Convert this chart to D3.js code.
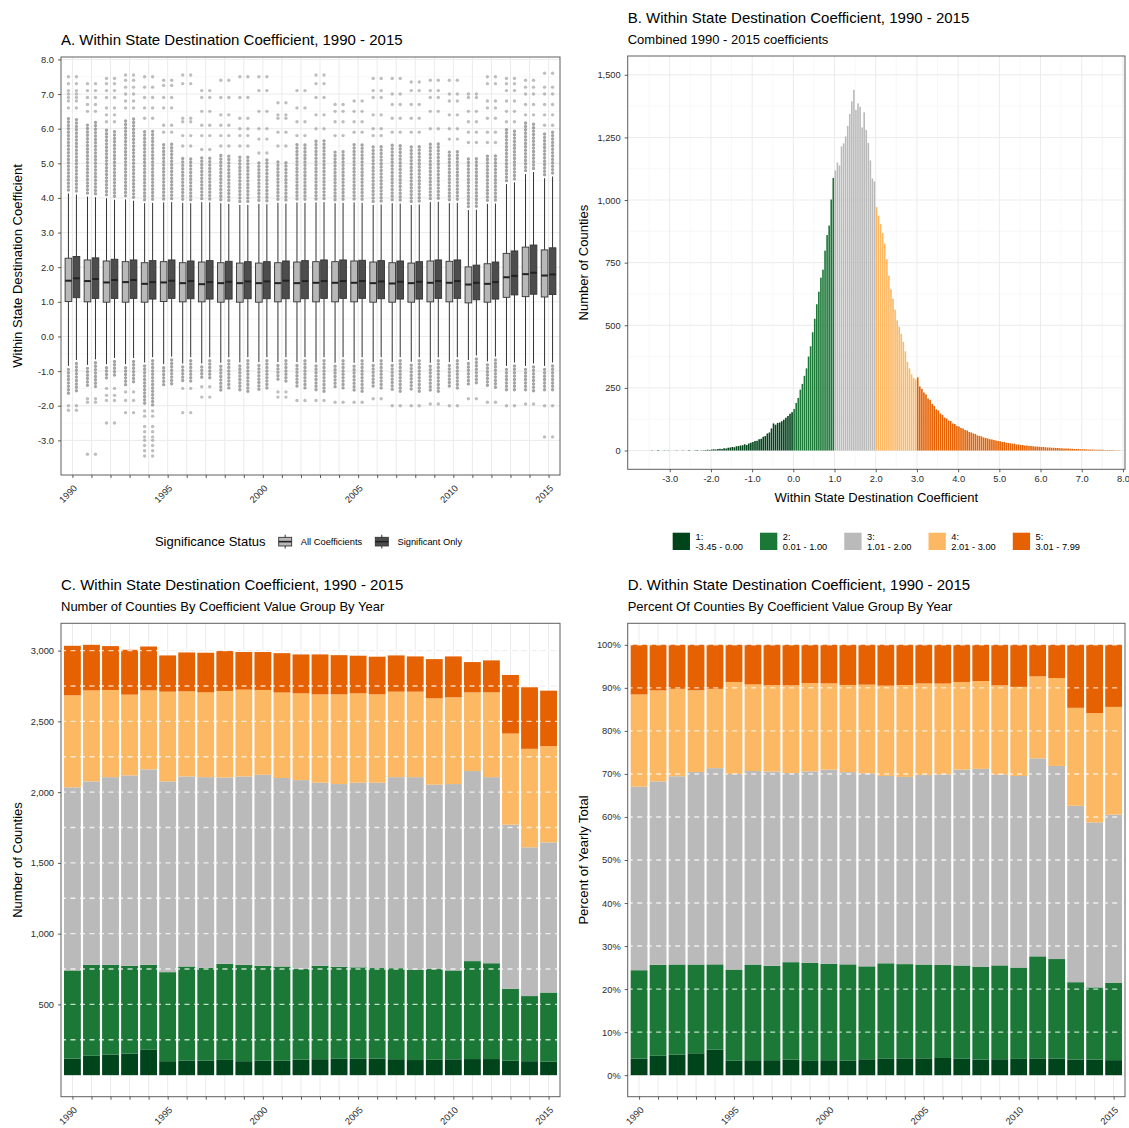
<!DOCTYPE html>
<html>
<head>
<meta charset="utf-8">
<script src="https://cdn.jsdelivr.net/npm/d3@7"></script>
<style>
  body { margin: 0; background: #fff; }
  text { font-family: "Liberation Sans", Arial, sans-serif; }
</style>
</head>
<body>
<script>
// ---------- data ----------
const years = [1990,1991,1992,1993,1994,1995,1996,1997,1998,1999,2000,2001,2002,
               2003,2004,2005,2006,2007,2008,2009,2010,2011,2012,2013,2014,2015];
const yearLabels = [1990, 1995, 2000, 2005, 2010, 2015];

// panel A: box stats, all coefficients
const allQ1  = [1.01,1.00,0.99,0.99,0.99,1.01,1.00,1.00,0.99,0.99,0.99,1.00,1.00,1.00,1.00,1.00,0.99,0.99,0.99,1.00,1.00,0.97,0.99,1.13,1.15,1.14];
const allMed = [1.61,1.60,1.56,1.57,1.52,1.56,1.54,1.51,1.54,1.54,1.54,1.54,1.54,1.55,1.55,1.55,1.54,1.53,1.54,1.55,1.55,1.50,1.52,1.71,1.80,1.76];
const allQ3  = [2.26,2.21,2.18,2.16,2.13,2.16,2.13,2.15,2.13,2.12,2.12,2.13,2.15,2.16,2.16,2.18,2.15,2.13,2.12,2.18,2.17,2.01,2.10,2.40,2.58,2.50];
const allLo  = [-0.85,-0.82,-0.80,-0.80,-0.75,-0.80,-0.78,-0.78,-0.76,-0.75,-0.74,-0.74,-0.74,-0.75,-0.76,-0.76,-0.74,-0.74,-0.73,-0.76,-0.74,-0.68,-0.72,-0.85,-0.85,-0.85];
const allHi  = [4.13,4.04,3.99,3.96,3.85,3.87,3.86,3.88,3.85,3.80,3.83,3.86,3.87,3.87,3.85,3.87,3.80,3.85,3.80,3.88,3.85,3.65,3.83,4.40,4.69,4.57];
// panel A: box stats, significant only
const sigQ1  = [1.12,1.10,1.10,1.10,1.08,1.10,1.09,1.08,1.08,1.09,1.09,1.09,1.09,1.10,1.10,1.10,1.09,1.08,1.08,1.10,1.10,1.06,1.08,1.20,1.22,1.21];
const sigMed = [1.68,1.66,1.63,1.63,1.57,1.61,1.60,1.57,1.58,1.59,1.59,1.61,1.60,1.60,1.60,1.60,1.59,1.58,1.58,1.60,1.60,1.55,1.57,1.75,1.84,1.79];
const sigQ3  = [2.31,2.27,2.23,2.21,2.19,2.21,2.18,2.19,2.17,2.16,2.16,2.18,2.19,2.21,2.21,2.20,2.19,2.18,2.16,2.21,2.21,2.06,2.15,2.47,2.64,2.56];
const sigLo  = [-0.68,-0.66,-0.62,-0.62,-0.60,-0.58,-0.60,-0.60,-0.60,-0.60,-0.60,-0.60,-0.60,-0.60,-0.60,-0.60,-0.60,-0.60,-0.60,-0.60,-0.60,-0.55,-0.58,-0.75,-0.78,-0.75];
const sigHi  = [4.10,4.02,3.95,3.92,3.86,3.88,3.85,3.87,3.83,3.80,3.82,3.84,3.86,3.88,3.86,3.86,3.81,3.84,3.81,3.89,3.86,3.66,3.84,4.45,4.75,4.62];
// panel A: outliers (dense run ends + scattered points)
const upperDenseTop = [6.3,6.2,6.0,6.3,6.0,5.6,5.2,5.2,5.3,5.2,5.1,5.1,5.6,5.7,5.4,5.6,5.5,5.6,5.5,5.6,5.4,5.2,5.3,6.0,6.2,5.9];
const lowerDenseBottom = [-1.65,-1.50,-1.20,-1.40,-2.00,-1.40,-1.35,-1.25,-1.55,-1.60,-1.55,-1.30,-1.50,-1.60,-1.50,-1.60,-1.50,-1.60,-1.60,-1.60,-1.50,-1.40,-1.50,-1.60,-1.60,-1.60];
const upperSparse = [
  [6.6,6.8,6.9,7.0,7.1,7.3,7.5], [6.5,6.7,6.9,7.1,7.3], [6.2,6.4,6.6,6.9,7.1,7.3,7.45], [6.6,6.8,7.0,7.2,7.4,7.55],
  [6.3,6.6,6.9,7.2,7.5], [5.9,6.1,6.6,6.9,7.25,7.4], [5.5,5.8,6.2,6.3,7.3,7.55], [5.4,5.8,6.1,6.5,6.9,7.1],
  [5.5,5.8,6.1,6.4,6.9,7.4], [5.5,5.8,6.0,6.3,6.9,7.5], [5.3,5.7,6.0,6.5,7.1,7.5], [5.5,5.9,6.3,6.4,6.75],
  [5.8,6.2,6.6,7.1], [6.0,6.4,6.9,7.3,7.55], [5.8,6.2,6.5,6.7], [5.9,6.2,6.5,6.8],
  [5.8,6.0,6.4,6.9,7.1,7.45], [5.9,6.3,6.7,7.0,7.45], [5.9,6.3,6.7,7.1,7.35], [6.0,6.5,6.9,7.1,7.4],
  [5.7,6.0,6.4,6.8,7.0,7.4], [5.6,5.9,6.2,6.5,6.9,7.0], [5.6,5.9,6.3,6.6,6.8,7.3,7.5], [6.2,6.5,6.8,7.1,7.3,7.45],
  [6.4,6.7,7.0,7.2,7.4], [6.1,6.4,6.7,7.0,7.2,7.6]
];
const lowerSparse = [
  [-2.00,-2.13], [-1.80,-1.90,-3.40], [-1.50,-1.70,-1.85,-2.50], [-1.60,-1.85,-2.20],
  [-2.15,-2.30,-2.60,-2.75,-2.90,-3.00,-3.15,-3.30,-3.45], [], [-1.50,-2.20], [-1.45,-1.75],
  [], [], [], [-1.60,-1.75],
  [-1.85], [-1.85], [-1.90], [-1.90],
  [-1.80], [-2.00], [-2.00], [-1.95],
  [-2.00], [-1.80], [-1.90], [-2.00],
  [-1.95], [-2.00,-2.90]
];
const aTicks = [-3,-2,-1,0,1,2,3,4,5,6,7,8];

// panel B: histogram of all coefficients
const histStart = -3.45;
const histBinWidth = 0.05;
const histCounts = [
  1,0,0,2,0,0,1,0,1,0,0,0,1,0,0,1,0,0,2,0,0,1,2,0,1,1,2,3,2,
  4,5,4,6,7,6,9,8,11,12,
  14,13,17,18,20,21,25,22,28,31,
  34,38,39,45,47,55,58,68,72,88,
  108,103,110,112,117,123,131,138,147,153,
  166,190,210,243,266,298,328,375,416,472,526,584,634,690,722,798,860,898,1002,1088,
  1118,1150,1138,1214,1226,1254,1296,1344,1394,1440,1360,1386,1372,1290,1350,1280,1228,1158,1086,1074,
  972,938,904,868,826,764,698,644,606,562,520,494,466,434,396,354,328,304,290,284,
  292,256,246,232,224,208,202,186,178,164,160,148,142,132,128,120,118,108,106,98,
  96,90,88,82,80,74,72,68,66,60,58,56,52,50,48,45,44,42,40,38,
  37,34,34,31,30,29,27,27,24,24,22,22,20,20,18,18,17,16,16,15,
  14,14,13,12,12,11,11,10,10,9,9,8,8,8,7,7,6,6,6,5,
  5,5,4,4,4,4,3,3,3,3,3,2,2,2,2,2,1,1,1,0
];
const groupBreaks = [0, 1, 2, 3];
const groupNames = ['1:', '2:', '3:', '4:', '5:'];
const groupRanges = ['-3.45 - 0.00', '0.01 - 1.00', '1.01 - 2.00', '2.01 - 3.00', '3.01 - 7.99'];
const bCountTicks = [0, 250, 500, 750, 1000, 1250, 1500];
const bCoefTicks = [-3, -2, -1, 0, 1, 2, 3, 4, 5, 6, 7, 8];

// panel C: counties per group per year
const g1 = [117,137,146,153,179,99,104,104,108,99,104,102,110,113,116,116,118,113,107,109,112,114,114,102,99,95];
const g2 = [623,643,634,620,601,629,664,655,679,681,669,666,642,660,650,646,639,643,639,641,628,692,677,509,460,489];
const g3 = [1294,1296,1326,1345,1381,1348,1343,1347,1317,1331,1350,1332,1333,1294,1291,1305,1310,1350,1360,1303,1317,1343,1315,1159,1051,1061];
const g4 = [650,643,616,571,558,634,601,599,611,613,599,604,613,624,634,631,624,604,604,610,613,556,599,644,696,680];
const g5 = [350,322,310,317,310,256,275,280,282,266,268,278,275,282,277,266,266,256,249,277,289,214,226,414,435,392];
const cTicks = [500, 1000, 1500, 2000, 2500, 3000];
const cGrid = [250, 500, 750, 1000, 1250, 1500, 1750, 2000, 2250, 2500, 2750, 3000];
const dTicks = [0, 0.1, 0.2, 0.3, 0.4, 0.5, 0.6, 0.7, 0.8, 0.9, 1.0];

// ---------- style ----------
const groupColors = ['#00441b', '#1b7837', '#bababa', '#fdb863', '#e66101'];
const boxFill = { all: '#b8b8b8', sig: '#4d4d4d' };
const gridMajor = '#ebebeb', gridMinor = '#f4f4f4', borderCol = '#5e5e5e', tickTxt = '#2b2b2b';
const W = 1129, H = 1128;

const svg = d3.select('body').append('svg').attr('width', W).attr('height', H);
svg.append('rect').attr('width', W).attr('height', H).attr('fill', '#fff');

const pA = { left: 61, right: 560, top: 57, bottom: 475 };
const pB = { left: 627.7, right: 1125, top: 56, bottom: 469.3 };
const pC = { left: 61, right: 560, top: 623.3, bottom: 1096.7 };
const pD = { left: 627.7, right: 1125, top: 623.3, bottom: 1096.7 };

function hLines(g, p, vals, y, col, w) {
  g.selectAll(null).data(vals).enter().append('line')
    .attr('x1', p.left).attr('x2', p.right)
    .attr('y1', d => y(d)).attr('y2', d => y(d))
    .attr('stroke', col).attr('stroke-width', w);
}
function vLines(g, p, vals, x, col, w) {
  g.selectAll(null).data(vals).enter().append('line')
    .attr('y1', p.top).attr('y2', p.bottom)
    .attr('x1', d => x(d)).attr('x2', d => x(d))
    .attr('stroke', col).attr('stroke-width', w);
}
function border(p) {
  svg.append('rect').attr('x', p.left).attr('y', p.top)
    .attr('width', p.right - p.left).attr('height', p.bottom - p.top)
    .attr('fill', 'none').attr('stroke', borderCol).attr('stroke-width', 1);
}
function styleAxis(g) {
  g.select('.domain').remove();
  g.selectAll('.tick line').attr('stroke', '#333').attr('stroke-width', 0.8);
  g.selectAll('.tick text').attr('fill', tickTxt).style('font-size', '9.3px');
}
function yearAxis(p, x) {
  const g = svg.append('g').attr('transform', `translate(0,${p.bottom})`)
    .call(d3.axisBottom(x).tickValues(years).tickSize(3)
      .tickFormat(d => yearLabels.includes(d) ? d : ''));
  styleAxis(g);
  g.selectAll('.tick text').attr('y', 0).attr('dy', 0).attr('text-anchor', 'end')
    .attr('transform', 'translate(4.8,13.8) rotate(-45)');
}
function yAxis(p, y, ticks, fmt) {
  const g = svg.append('g').attr('transform', `translate(${p.left},0)`)
    .call(d3.axisLeft(y).tickValues(ticks).tickSize(3).tickPadding(4).tickFormat(fmt));
  styleAxis(g);
}
function title(x, y, txt, size) {
  svg.append('text').attr('x', x).attr('y', y).attr('fill', '#000')
    .style('font-size', size + 'px').text(txt);
}
function yTitle(x, cy, txt) {
  svg.append('text').attr('transform', `translate(${x},${cy}) rotate(-90)`)
    .attr('text-anchor', 'middle').style('font-size', '13px').attr('fill', '#000').text(txt);
}
const xYear = p => d3.scaleLinear().domain([years[0] - 0.6, years[years.length - 1] + 0.6]).range([p.left, p.right]);

// ---------- panel A ----------
{
  const x = xYear(pA);
  const y = d3.scaleLinear().domain([-4.0, 8.07]).range([pA.bottom, pA.top]);
  const g = svg.append('g');
  const minor = aTicks.slice(0, -1).map(d => d + 0.5);
  hLines(g, pA, minor, y, gridMinor, 0.6);
  hLines(g, pA, aTicks, y, gridMajor, 1);
  vLines(g, pA, years, x, gridMajor, 1);

  const bw = x(1) - x(0);
  const off = 0.21 * bw, boxW = 0.35 * bw;
  const series = [
    { key: 'all', dx: -off, q1: allQ1, med: allMed, q3: allQ3, lo: allLo, hi: allHi },
    { key: 'sig', dx: off, q1: sigQ1, med: sigMed, q3: sigQ3, lo: sigLo, hi: sigHi }
  ];
  series.forEach(s => {
    years.forEach((yr, i) => {
      const cx = x(yr) + s.dx;
      // dense outlier runs
      [[s.hi[i] + 0.1, upperDenseTop[i]], [s.lo[i] - 0.1, lowerDenseBottom[i]]].forEach(r => {
        g.append('line').attr('x1', cx).attr('x2', cx).attr('y1', y(r[0])).attr('y2', y(r[1]))
          .attr('stroke', '#7d7d7d').attr('stroke-opacity', 0.7).attr('stroke-width', 3.4)
          .attr('stroke-linecap', 'round').attr('stroke-dasharray', '0,3.4');
      });
      g.selectAll(null).data(upperSparse[i].concat(lowerSparse[i])).enter().append('circle')
        .attr('cx', cx).attr('cy', d => y(d)).attr('r', 1.7)
        .attr('fill', '#888').attr('fill-opacity', 0.55);
    });
  });
  series.forEach(s => {
    years.forEach((yr, i) => {
      const cx = x(yr) + s.dx;
      g.append('line').attr('x1', cx).attr('x2', cx).attr('y1', y(s.hi[i])).attr('y2', y(s.q3[i]))
        .attr('stroke', '#333').attr('stroke-width', 1);
      g.append('line').attr('x1', cx).attr('x2', cx).attr('y1', y(s.q1[i])).attr('y2', y(s.lo[i]))
        .attr('stroke', '#333').attr('stroke-width', 1);
      g.append('rect').attr('x', cx - boxW / 2).attr('width', boxW)
        .attr('y', y(s.q3[i])).attr('height', y(s.q1[i]) - y(s.q3[i]))
        .attr('fill', boxFill[s.key]).attr('stroke', '#333').attr('stroke-width', 0.9);
      g.append('line').attr('x1', cx - boxW / 2).attr('x2', cx + boxW / 2)
        .attr('y1', y(s.med[i])).attr('y2', y(s.med[i]))
        .attr('stroke', '#222').attr('stroke-width', 2);
    });
  });
  border(pA);
  yAxis(pA, y, aTicks, d => d.toFixed(1));
  yearAxis(pA, x);
  title(61, 44.5, 'A. Within State Destination Coefficient, 1990 - 2015', 15);
  yTitle(21.5, (pA.top + pA.bottom) / 2, 'Within State Destination Coefficient');

  // legend
  const lg = svg.append('g');
  const ly = 533, ks = 17.3;
  const t = lg.append('text').attr('y', ly + 13.3).style('font-size', '13px').attr('fill', '#000').text('Significance Status');
  const tw = t.node().getComputedTextLength();
  const labs = ['All Coefficients', 'Significant Only'];
  const lw = labs.map(l => {
    const tt = lg.append('text').style('font-size', '9.3px').text(l);
    const w = tt.node().getComputedTextLength(); tt.remove(); return w;
  });
  const total = tw + 11 + (ks + 7 + lw[0]) + 11 + (ks + 7 + lw[1]);
  let lx = (pA.left + pA.right) / 2 - total / 2 - 2;
  t.attr('x', lx);
  lx += tw + 11;
  ['all', 'sig'].forEach((k, j) => {
    const kx = lx;
    lg.append('line').attr('x1', kx + ks / 2).attr('x2', kx + ks / 2)
      .attr('y1', ly + ks * 0.1).attr('y2', ly + ks * 0.9).attr('stroke', '#333').attr('stroke-width', 1);
    lg.append('rect').attr('x', kx + ks * 0.125).attr('y', ly + ks * 0.25)
      .attr('width', ks * 0.75).attr('height', ks * 0.5)
      .attr('fill', boxFill[k]).attr('stroke', '#333').attr('stroke-width', 0.9);
    lg.append('line').attr('x1', kx + ks * 0.125).attr('x2', kx + ks * 0.875)
      .attr('y1', ly + ks / 2).attr('y2', ly + ks / 2).attr('stroke', '#222').attr('stroke-width', 1.6);
    lg.append('text').attr('x', kx + ks + 7).attr('y', ly + ks / 2 + 3.3)
      .style('font-size', '9.3px').attr('fill', '#000').text(labs[j]);
    lx += ks + 7 + lw[j] + 11;
  });
}

// ---------- panel B ----------
{
  const x = d3.scaleLinear().domain([-4.02, 8.05]).range([pB.left, pB.right]);
  const y = d3.scaleLinear().domain([-75, 1575]).range([pB.bottom, pB.top]);
  const g = svg.append('g');
  hLines(g, pB, bCountTicks.slice(0, -1).map(d => d + 125), y, gridMinor, 0.6);
  hLines(g, pB, bCountTicks, y, gridMajor, 1);
  vLines(g, pB, bCoefTicks.map(d => d - 0.5).concat([7.5]), x, gridMinor, 0.6);
  vLines(g, pB, bCoefTicks.filter(d => x(d) < pB.right), x, gridMajor, 1);

  const col = d3.scaleThreshold().domain(groupBreaks).range(groupColors);
  const bins = histCounts.map((c, i) => ({ x0: histStart + i * histBinWidth, n: c }));
  g.selectAll(null).data(bins.filter(b => b.n > 0)).enter().append('rect')
    .attr('x', d => x(d.x0)).attr('width', d => Math.max(0.6, x(d.x0 + histBinWidth) - x(d.x0) - 0.45))
    .attr('y', d => y(d.n)).attr('height', d => y(0) - y(d.n))
    .attr('fill', d => col(d.x0 + histBinWidth / 2));

  border(pB);
  yAxis(pB, y, bCountTicks, d3.format(','));
  const gx = svg.append('g').attr('transform', `translate(0,${pB.bottom})`)
    .call(d3.axisBottom(x).tickValues(bCoefTicks).tickSize(3).tickPadding(3).tickFormat(d => d.toFixed(1)));
  styleAxis(gx);
  svg.append('text').attr('x', (pB.left + pB.right) / 2).attr('y', 501.5).attr('text-anchor', 'middle')
    .style('font-size', '13px').attr('fill', '#000').text('Within State Destination Coefficient');
  title(pB.left, 22.5, 'B. Within State Destination Coefficient, 1990 - 2015', 15);
  title(pB.left, 44, 'Combined 1990 - 2015 coefficients', 13);
  yTitle(588, (pB.top + pB.bottom) / 2, 'Number of Counties');

  // legend
  const lg = svg.append('g');
  const ly = 532.7, ks = 17.3;
  const lw = groupRanges.map(l => {
    const tt = lg.append('text').style('font-size', '9.3px').text(l);
    const w = tt.node().getComputedTextLength(); tt.remove(); return w;
  });
  const gap = 17;
  const total = d3.sum(lw) + groupRanges.length * (ks + 5.5) + (groupRanges.length - 1) * gap;
  let lx = (pB.left + pB.right) / 2 - total / 2;
  groupRanges.forEach((r, j) => {
    lg.append('rect').attr('x', lx).attr('y', ly).attr('width', ks).attr('height', ks).attr('fill', groupColors[j]);
    lg.append('text').attr('x', lx + ks + 5.5).attr('y', ly + 7.3).style('font-size', '9.3px').attr('fill', '#000').text(groupNames[j]);
    lg.append('text').attr('x', lx + ks + 5.5).attr('y', ly + 17).style('font-size', '9.3px').attr('fill', '#000').text(r);
    lx += ks + 5.5 + lw[j] + gap;
  });
}

// ---------- panels C & D ----------
const groups = [g1, g2, g3, g4, g5];
const totals = years.map((_, i) => d3.sum(groups, s => s[i]));

function stackedPanel(p, y, valueOf, gridVals, dashVals) {
  const x = xYear(p);
  const g = svg.append('g');
  hLines(g, p, gridVals, y, gridMajor, 1);
  vLines(g, p, years, x, gridMajor, 1);
  const bw = x(1) - x(0), barW = 0.885 * bw;
  years.forEach((yr, i) => {
    let acc = 0;
    groups.forEach((s, k) => {
      const v = valueOf(s[i], i);
      g.append('rect').attr('x', x(yr) - barW / 2).attr('width', barW)
        .attr('y', y(acc + v)).attr('height', y(acc) - y(acc + v)).attr('fill', groupColors[k]);
      acc += v;
    });
  });
  g.selectAll(null).data(dashVals).enter().append('line')
    .attr('x1', p.left).attr('x2', p.right).attr('y1', d => y(d)).attr('y2', d => y(d))
    .attr('stroke', '#fff').attr('stroke-opacity', 0.75).attr('stroke-width', 1.4)
    .attr('stroke-dasharray', '5,4.5');
  border(p);
  yearAxis(p, x);
}

{
  const y = d3.scaleLinear().domain([-0.05 * d3.max(totals), 1.05 * d3.max(totals)]).range([pC.bottom, pC.top]);
  stackedPanel(pC, y, v => v, cGrid, cGrid);
  yAxis(pC, y, cTicks, d3.format(','));
  title(61, 590, 'C. Within State Destination Coefficient, 1990 - 2015', 15);
  title(61, 610.5, 'Number of Counties By Coefficient Value Group By Year', 13);
  yTitle(21.5, (pC.top + pC.bottom) / 2, 'Number of Counties');
}
{
  const y = d3.scaleLinear().domain([-0.05, 1.05]).range([pD.bottom, pD.top]);
  stackedPanel(pD, y, (v, i) => v / totals[i], dTicks, dTicks.slice(1));
  yAxis(pD, y, dTicks, d => Math.round(d * 100) + '%');
  title(pD.left, 590, 'D. Within State Destination Coefficient, 1990 - 2015', 15);
  title(pD.left, 610.5, 'Percent Of Counties By Coefficient Value Group By Year', 13);
  yTitle(588, (pD.top + pD.bottom) / 2, 'Percent of Yearly Total');
}
</script>
</body>
</html>
